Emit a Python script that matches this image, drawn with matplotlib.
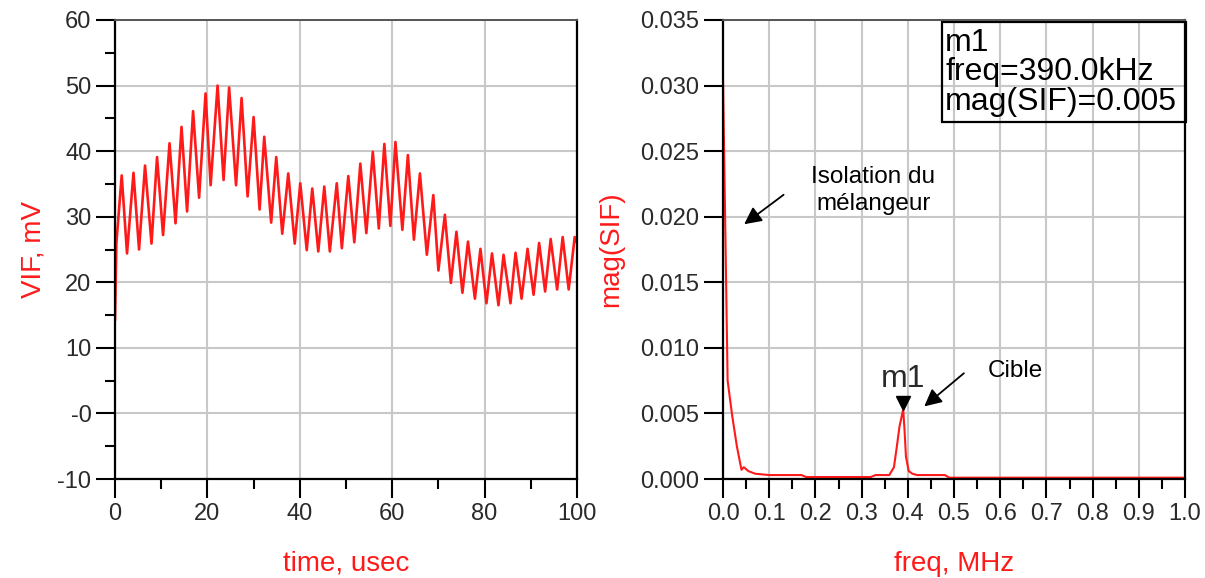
import matplotlib
matplotlib.use("Agg")
import matplotlib.pyplot as plt
from matplotlib.patches import Rectangle
from matplotlib import transforms

plt.rcParams['font.family'] = ['Liberation Sans', 'DejaVu Sans']

# left : VIF in time domain (peaks / troughs)
time_us = [0.0, 0.3, 1.45, 2.6, 4.0, 5.2, 6.5, 7.9, 9.1, 10.4, 11.8, 13.1, 14.4, 15.6,
           16.9, 18.2, 19.6, 20.7, 22.2, 23.5, 24.7, 26.2, 27.4, 28.7, 30.0, 31.3,
           32.3, 33.8, 34.9, 36.2, 37.5, 38.9, 40.1, 41.5, 42.7, 44.0, 45.3, 46.5,
           48.0, 49.1, 50.5, 51.8, 53.1, 54.4, 55.8, 57.1, 58.3, 59.6, 60.7, 62.2,
           63.4, 64.7, 66.0, 67.5, 68.9, 70.0, 71.4, 72.7, 73.9, 75.2, 76.4, 77.9,
           79.1, 80.4, 81.6, 83.0, 84.1, 85.6, 86.7, 88.0, 89.3, 90.6, 91.8, 93.1,
           94.3, 95.7, 96.9, 98.2, 99.5, 100.0]
vif_mv = [14.3, 26.0, 36.3, 24.4, 36.7, 25.0, 37.8, 25.9, 39.1, 27.2, 41.2, 29.0, 43.7, 30.8,
          46.1, 32.9, 48.8, 34.8, 50.0, 35.6, 49.7, 34.8, 48.1, 33.1, 45.2, 31.1,
          42.2, 29.1, 39.1, 27.4, 36.6, 25.9, 35.1, 24.9, 34.3, 24.7, 34.6, 24.7,
          35.1, 25.2, 36.2, 26.1, 38.1, 27.5, 39.9, 28.2, 41.1, 28.6, 41.4, 28.0,
          39.4, 26.5, 36.6, 24.2, 33.3, 21.8, 30.3, 19.9, 27.7, 18.4, 26.2, 17.5,
          25.1, 16.8, 24.4, 16.5, 24.2, 16.8, 24.5, 17.5, 25.1, 18.1, 26.0, 18.6,
          26.6, 18.9, 26.9, 18.9, 26.9, 26.0]

# right : spectrum mag(SIF)
freq_mhz = [0.0, 0.01, 0.02, 0.03, 0.04, 0.045, 0.055, 0.07, 0.10, 0.17, 0.18, 0.25,
            0.32, 0.33, 0.36, 0.37, 0.376, 0.382, 0.39, 0.393, 0.396, 0.402, 0.41,
            0.42, 0.48, 0.49, 0.6, 0.7, 0.8, 0.9, 1.0]
mag_sif = [0.0305, 0.0075, 0.0048, 0.0025, 0.0007, 0.0009, 0.0006, 0.0004, 0.0003, 0.0003,
           0.00015, 0.00015, 0.00015, 0.0003, 0.0003, 0.0009, 0.0024, 0.0040, 0.0053,
           0.0037, 0.0017, 0.0006, 0.0004, 0.0003, 0.0003, 0.0001, 0.0001, 0.0001,
           0.0001, 0.0001, 0.0001]

m1_freq = 0.39
m1_text = ["m1", "freq=390.0kHz", "mag(SIF)=0.005"]

RED = '#ff1a1a'
GRID = '#c8c8c8'
TXT = '#2a2a2a'

fig = plt.figure(figsize=(12.05, 5.78), dpi=100)
ax1 = fig.add_axes([115/1205, 1-479/578, 462/1205, 459/578])
ax2 = fig.add_axes([723/1205, 1-479/578, 462/1205, 459/578])

def style(ax):
    ax.set_axisbelow(True)
    ax.grid(True, which='major', color=GRID, lw=1.5)
    for s in ['left', 'bottom', 'right']:
        ax.spines[s].set_color('black')
        ax.spines[s].set_linewidth(1.6)
    ax.spines['top'].set_color('#555555')
    ax.spines['top'].set_linewidth(1.4)
    ax.tick_params(which='major', direction='out', length=14, width=1.5,
                   labelsize=17, labelcolor=TXT, pad=3)
    ax.tick_params(which='minor', direction='out', length=7.5, width=1.5)
    ax.tick_params(right=False, top=False)

# time plot
ax1.plot(time_us, vif_mv, color=RED, lw=1.9)
ax1.set_xlim(0, 100)
ax1.set_ylim(-10, 60)
ax1.set_xticks(range(0, 101, 20))
ax1.set_xticks(range(10, 100, 20), minor=True)
ax1.set_yticks(range(-10, 61, 10))
ax1.set_yticklabels(['-10', '-0', '10', '20', '30', '40', '50', '60'])
ax1.set_yticks(range(-5, 60, 10), minor=True)
style(ax1)
ax1.set_xlabel('time, usec', color=RED, fontsize=20, labelpad=19)
ax1.set_ylabel('VIF, mV', color=RED, fontsize=20, labelpad=8)

# spectrum
ax2.plot(freq_mhz, mag_sif, color=RED, lw=1.5)
ax2.set_xlim(0, 1.0)
ax2.set_ylim(0, 0.035)
xt = [i/10 for i in range(11)]
ax2.set_xticks(xt)
ax2.set_xticklabels(['%.1f' % v for v in xt])
ax2.set_xticks([i/10 + 0.05 for i in range(10)], minor=True)
yt = [i*0.005 for i in range(8)]
ax2.set_yticks(yt)
ax2.set_yticklabels(['%.3f' % v for v in yt])
style(ax2)
ax2.set_xlabel('freq, MHz', color=RED, fontsize=20, labelpad=19)
ax2.set_ylabel('mag(SIF)', color=RED, fontsize=20, labelpad=12)

# marker m1
i = freq_mhz.index(m1_freq)
tri = transforms.offset_copy(ax2.transData, fig=fig, x=0, y=5, units='points')
ax2.plot(freq_mhz[i], mag_sif[i], marker='v', color='black', ms=10, transform=tri, clip_on=False)
ax2.annotate('m1', (freq_mhz[i], mag_sif[i]), xytext=(0, 22), textcoords='offset points',
             ha='center', va='center', fontsize=23, color=TXT)

box = Rectangle((0.474, 0.778), 0.528, 0.218, transform=ax2.transAxes, fill=False,
                edgecolor='black', lw=1.6, clip_on=False)
ax2.add_patch(box)
for s, yy in zip(m1_text, [0.950, 0.886, 0.822]):
    ax2.text(0.481, yy, s, transform=ax2.transAxes, fontsize=23, color='black',
             ha='left', va='center')

# annotations
ax2.annotate('', xy=(0.041, 0.0193), xytext=(0.136, 0.0218),
             arrowprops=dict(arrowstyle='-|>', color='black', lw=1.3, mutation_scale=26))
ax2.text(0.325, 0.0220, 'Isolation du\nmélangeur', fontsize=17.5, color='black',
         ha='center', va='center', linespacing=1.25)
ax2.annotate('', xy=(0.431, 0.0054), xytext=(0.526, 0.0082),
             arrowprops=dict(arrowstyle='-|>', color='black', lw=1.3, mutation_scale=26))
ax2.text(0.574, 0.0082, 'Cible', fontsize=17.5, color='black', ha='left', va='center')

fig.savefig('out.png', dpi=100)
